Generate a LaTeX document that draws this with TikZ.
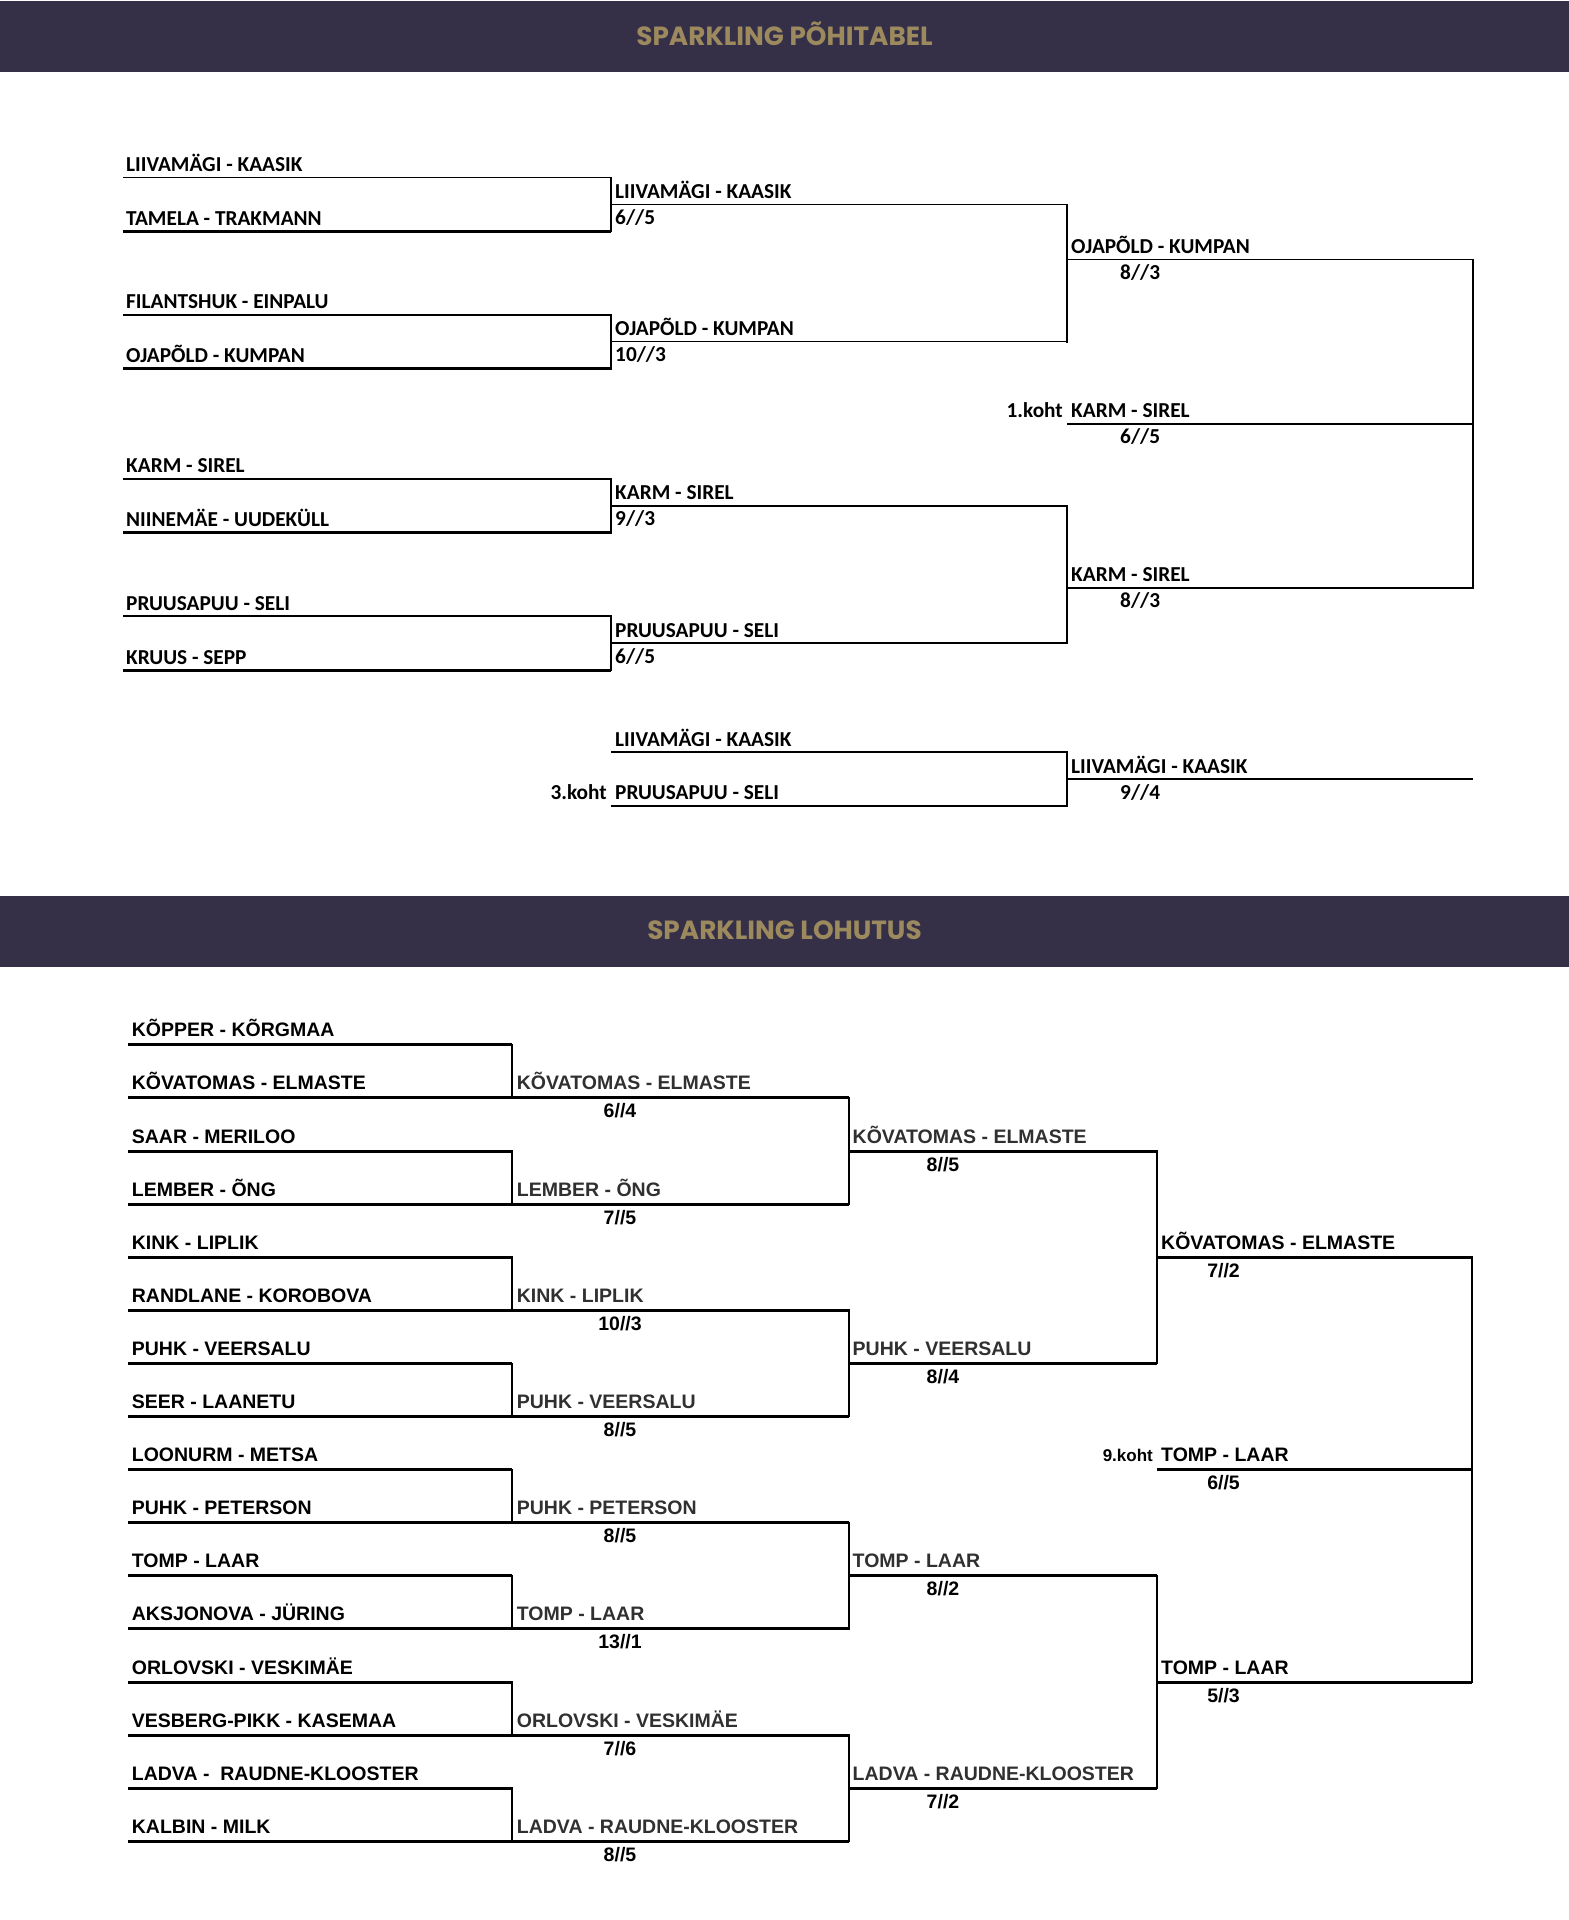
\documentclass[tikz,border=0pt]{standalone}
\usepackage{fontspec}
\newfontfamily\carlfam{Carlito}
\newfontfamily\libsansfam{Liberation Sans}
\newfontfamily\poppfam{Poppins}
\newcommand\mytopf{\carlfam\bfseries\fontsize{21.3}{25}\selectfont}
\newcommand\mybotf{\libsansfam\bfseries\fontsize{19.5}{23}\selectfont}
\newcommand\mybots{\libsansfam\bfseries\fontsize{17}{20}\selectfont}
\newcommand\myttlf{\poppfam\bfseries\fontsize{26.3}{30}\selectfont}
\definecolor{hdrbg}{HTML}{353048}
\definecolor{gold}{HTML}{9C8A5E}
\definecolor{namegray}{HTML}{303030}
\begin{document}
\begin{tikzpicture}[x=1pt,y=-1pt,
  hdr/.style={fill=hdrbg, draw=none, inner sep=0, anchor=north west, minimum width=1569pt, minimum height=71pt},
  ttl/.style={font=\myttlf, text=gold, inner sep=0, anchor=base},
  tname/.style={font=\mytopf, inner sep=0, anchor=base west},
  tlab/.style={font=\mytopf, inner sep=0, anchor=base east},
  bname/.style={font=\mybotf, inner sep=0, anchor=base west},
  bnamegray/.style={bname, text=namegray},
  bscore/.style={font=\mybotf, inner sep=0, anchor=base},
  blab/.style={font=\mybots, inner sep=0, anchor=base east},
  tthin/.style={line width=1.5pt},
  tvert/.style={line width=1.6pt, line cap=rect},
  bhl/.style={line width=3pt},
  bvl/.style={line width=1.8pt, line cap=rect}]
\useasboundingbox (0,0) rectangle (1569,1920);
\fill[white] (0,0) rectangle (1569,1920);

% headers
\node[hdr] (hdrA) at (0,1) {};
\node[ttl] (ttlA) at (784.5,45) {SPARKLING PÕHITABEL};
\node[hdr] (hdrB) at (0,895.3) {};
\node[ttl] (ttlB) at (784.5,939.5) {SPARKLING LOHUTUS};

% ---------------- top bracket ----------------
\foreach \k/\y/\nm/\lw in {1/177.6/{LIIVAMÄGI - KAASIK}/1.5, 2/231.5/{TAMELA - TRAKMANN}/3,
  3/314.8/{FILANTSHUK - EINPALU}/1.5, 4/368.7/{OJAPÕLD - KUMPAN}/3,
  5/478.9/{KARM - SIREL}/1.5, 6/532.8/{NIINEMÄE - UUDEKÜLL}/3,
  7/616.1/{PRUUSAPUU - SELI}/1.5, 8/670.0/{KRUUS - SEPP}/3}
{
  \coordinate (ta\k) at (123,\y);
  \coordinate (tb\k) at (611,\y);
  \draw[line width=\lw pt] (ta\k) -- (tb\k);
  \node[tname] (tn\k) at (126,\y-6) {\nm};
}
\draw[tvert] (tb1) -- (tb2);
\draw[tvert] (tb3) -- (tb4);
\draw[tvert] (tb5) -- (tb6);
\draw[tvert] (tb7) -- (tb8);

\foreach \k/\y/\nm/\sc in {1/204.5/{LIIVAMÄGI - KAASIK}/{6//5}, 2/341.7/{OJAPÕLD - KUMPAN}/{10//3},
  3/505.8/{KARM - SIREL}/{9//3}, 4/643.0/{PRUUSAPUU - SELI}/{6//5}}
{
  \coordinate (tc\k) at (611,\y);
  \coordinate (td\k) at (1067,\y);
  \draw[tthin] (tc\k) -- (td\k);
  \node[tname] (tm\k) at (615,\y-6) {\nm};
  \node[tname] (ts\k) at (615,\y+20) {\sc};
}
\draw[tvert] (td1) -- (td2);
\draw[tvert] (td3) -- (td4);

\foreach \k/\y/\nm/\sc in {1/259.7/{OJAPÕLD - KUMPAN}/{8//3}, 2/587.9/{KARM - SIREL}/{8//3}}
{
  \coordinate (te\k) at (1067,\y);
  \coordinate (tf\k) at (1473,\y);
  \draw[tthin] (te\k) -- (tf\k);
  \node[tname] (tr\k) at (1071,\y-6) {\nm};
  \node[tname] (tq\k) at (1120,\y+20) {\sc};
}
\draw[tvert] (tf1) -- (tf2);

% final
\coordinate (tg1) at (1067,423.8);
\coordinate (tg2) at (1473,423.8);
\draw[tthin] (tg1) -- (tg2);
\node[tname] (tfin) at (1071,417.8) {KARM - SIREL};
\node[tlab] (tfirst) at (1063,417.8) {1.koht};
\node[tname] (tfinsc) at (1120,443.8) {6//5};

% third place
\coordinate (th1) at (611,752.0);
\coordinate (ti1) at (1067,752.0);
\coordinate (th2) at (611,805.9);
\coordinate (ti2) at (1067,805.9);
\draw[tthin] (th1) -- (ti1);
\draw[tthin] (th2) -- (ti2);
\draw[tvert] (ti1) -- (ti2);
\node[tname] (tthA) at (615,746.0) {LIIVAMÄGI - KAASIK};
\node[tname] (tthB) at (615,799.9) {PRUUSAPUU - SELI};
\node[tlab] (tthird) at (607,799.9) {3.koht};
\coordinate (tj) at (1067,779);
\coordinate (tk) at (1473,779);
\draw[tthin] (tj) -- (tk);
\node[tname] (tthW) at (1071,773) {LIIVAMÄGI - KAASIK};
\node[tname] (tthS) at (1120,799) {9//4};

% ---------------- bottom bracket ----------------
\foreach \k/\nm in {0/{KÕPPER - KÕRGMAA}, 1/{KÕVATOMAS - ELMASTE}, 2/{SAAR - MERILOO}, 3/{LEMBER - ÕNG},
  4/{KINK - LIPLIK}, 5/{RANDLANE - KOROBOVA}, 6/{PUHK - VEERSALU}, 7/{SEER - LAANETU},
  8/{LOONURM - METSA}, 9/{PUHK - PETERSON}, 10/{TOMP - LAAR}, 11/{AKSJONOVA - JÜRING},
  12/{ORLOVSKI - VESKIMÄE}, 13/{VESBERG-PIKK - KASEMAA}, 14/{LADVA - \ RAUDNE-KLOOSTER}, 15/{KALBIN - MILK}}
{
  \pgfmathsetmacro\yy{1044.8+53.1*\k}
  \coordinate (ba\k) at (128,\yy);
  \coordinate (bb\k) at (512,\yy);
  \draw[bhl] (ba\k) -- (bb\k);
  \node[bname] (bn\k) at (131.7,\yy-8) {\nm};
}
\foreach \k in {0,2,...,14}{
  \pgfmathtruncatemacro\kk{\k+1}
  \draw[bvl] (bb\k) -- (bb\kk);
}

\foreach \j/\nm/\sc in {0/{KÕVATOMAS - ELMASTE}/{6//4}, 1/{LEMBER - ÕNG}/{7//5}, 2/{KINK - LIPLIK}/{10//3},
  3/{PUHK - VEERSALU}/{8//5}, 4/{PUHK - PETERSON}/{8//5}, 5/{TOMP - LAAR}/{13//1},
  6/{ORLOVSKI - VESKIMÄE}/{7//6}, 7/{LADVA - RAUDNE-KLOOSTER}/{8//5}}
{
  \pgfmathsetmacro\yy{1044.8+53.1*(2*\j+1)}
  \coordinate (bc\j) at (512,\yy);
  \coordinate (bd\j) at (848.8,\yy);
  \draw[bhl] (bc\j) -- (bd\j);
  \node[bnamegray] (bm\j) at (516.7,\yy-8) {\nm};
  \node[bscore] (bs\j) at (620,\yy+20) {\sc};
}
\foreach \j in {0,2,4,6}{
  \pgfmathtruncatemacro\jj{\j+1}
  \draw[bvl] (bd\j) -- (bd\jj);
}

\foreach \i/\nm/\sc in {0/{KÕVATOMAS - ELMASTE}/{8//5}, 1/{PUHK - VEERSALU}/{8//4},
  2/{TOMP - LAAR}/{8//2}, 3/{LADVA - RAUDNE-KLOOSTER}/{7//2}}
{
  \pgfmathsetmacro\yy{1044.8+53.1*(4*\i+2)}
  \coordinate (be\i) at (848.8,\yy);
  \coordinate (bf\i) at (1156.7,\yy);
  \draw[bhl] (be\i) -- (bf\i);
  \node[bnamegray] (br\i) at (852.5,\yy-8) {\nm};
  \node[bscore] (bq\i) at (943,\yy+20) {\sc};
}
\draw[bvl] (bf0) -- (bf1);
\draw[bvl] (bf2) -- (bf3);

\foreach \i/\kk/\nm/\sc in {0/4/{KÕVATOMAS - ELMASTE}/{7//2}, 1/12/{TOMP - LAAR}/{5//3}, 2/8/{TOMP - LAAR}/{6//5}}
{
  \pgfmathsetmacro\yy{1044.8+53.1*\kk}
  \coordinate (bg\i) at (1156.7,\yy);
  \coordinate (bh\i) at (1472,\yy);
  \draw[bhl] (bg\i) -- (bh\i);
  \node[bname] (bw\i) at (1161,\yy-8) {\nm};
  \node[bscore] (bx\i) at (1223.5,\yy+20) {\sc};
}
\draw[bvl] (bh0) -- (bh1);
\node[blab] (bninth) at (1153,1461.6) {9.koht};
\end{tikzpicture}
\end{document}
